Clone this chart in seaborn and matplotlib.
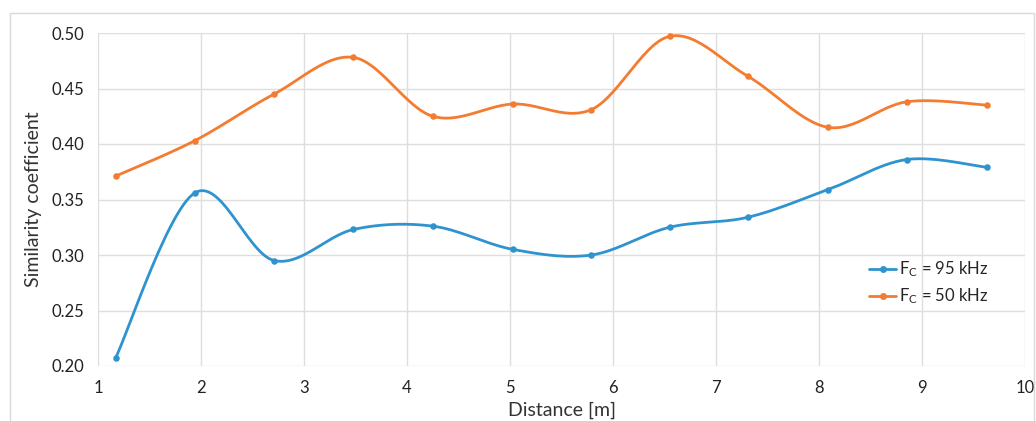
import numpy as np
import pandas as pd
import seaborn as sns
import matplotlib
matplotlib.use("Agg")
import matplotlib.pyplot as plt
from matplotlib.lines import Line2D
from matplotlib.patches import Rectangle

# ---- data ----
distance = [1.17, 1.94, 2.71, 3.48, 4.25, 5.03, 5.79, 6.55, 7.31, 8.09, 8.85, 9.63]
sim_95khz = [0.207, 0.356, 0.295, 0.323, 0.326, 0.305, 0.300, 0.325, 0.334, 0.359, 0.386, 0.379]
sim_50khz = [0.371, 0.403, 0.445, 0.478, 0.425, 0.436, 0.431, 0.497, 0.461, 0.415, 0.438, 0.435]
series_labels = [r"$\mathregular{F_C}$ = 95 kHz", r"$\mathregular{F_C}$ = 50 kHz"]
x_ticks = [1, 2, 3, 4, 5, 6, 7, 8, 9, 10]
y_ticks = [0.20, 0.25, 0.30, 0.35, 0.40, 0.45, 0.50]

colors = ["#2F93CF", "#F47C30"]


def smooth_curve(x, y, n=30):
    """Excel-like smoothed line: cubic Bezier segments (Catmull-Rom control points)."""
    x = np.asarray(x, float)
    y = np.asarray(y, float)
    px = np.concatenate([[x[0]], x, [x[-1]]])
    py = np.concatenate([[y[0]], y, [y[-1]]])
    xs, ys = [], []
    t = np.linspace(0, 1, n)
    for i in range(1, len(px) - 2):
        p0 = np.array([px[i], py[i]])
        p3 = np.array([px[i + 1], py[i + 1]])
        c1 = p0 + (np.array([px[i + 1], py[i + 1]]) - np.array([px[i - 1], py[i - 1]])) / 6
        c2 = p3 - (np.array([px[i + 2], py[i + 2]]) - np.array([px[i], py[i]])) / 6
        b = ((1 - t) ** 3)[:, None] * p0 + (3 * (1 - t) ** 2 * t)[:, None] * c1 \
            + (3 * (1 - t) * t ** 2)[:, None] * c2 + (t ** 3)[:, None] * p3
        xs.append(b[:, 0])
        ys.append(b[:, 1])
    return np.concatenate(xs), np.concatenate(ys)


sns.set_theme(style="white")
plt.rcParams["font.family"] = ["Lato", "DejaVu Sans"]
plt.rcParams["mathtext.fontset"] = "custom"
plt.rcParams["mathtext.rm"] = "Lato"

fig = plt.figure(figsize=(10.36, 4.21), dpi=100)
ax = fig.add_axes([98 / 1036, 1 - 366 / 421, 927 / 1036, 333 / 421])

# outer chart border
fig.patches.append(Rectangle((10 / 1036, -0.01), 1024 / 1036, 1 - 13 / 421 + 0.01,
                             transform=fig.transFigure, fill=False,
                             edgecolor="#d9d9d9", linewidth=1.0))

handles = []
for yvals, lab, col in zip([sim_95khz, sim_50khz], series_labels, colors):
    sx, sy = smooth_curve(distance, yvals)
    sns.lineplot(x=sx, y=sy, ax=ax, color=col, linewidth=2.0, sort=False,
                 estimator=None)
    sns.scatterplot(x=distance, y=yvals, ax=ax, color=col, s=22,
                    edgecolor=col, linewidth=0, zorder=5)
    handles.append(Line2D([0], [0], color=col, linewidth=2.0, marker="o",
                          markersize=4, label=lab))

ax.set_xlim(1, 10)
ax.set_ylim(0.20, 0.50)
ax.set_xticks(x_ticks)
ax.set_xticklabels([str(v) for v in x_ticks])
ax.set_yticks(y_ticks)
ax.set_yticklabels([f"{v:.2f}" for v in y_ticks])
ax.grid(True, color="#dedede", linewidth=1.0)
for s in ax.spines.values():
    s.set_visible(False)
ax.tick_params(axis="both", length=0, labelsize=12, colors="#222222")
ax.tick_params(axis="x", pad=10)
ax.tick_params(axis="y", pad=10)
ax.set_xlabel("Distance [m]", fontsize=14, color="#333333", labelpad=4)
ax.set_ylabel("Similarity coefficient", fontsize=14, color="#333333", labelpad=7)

ax.legend(handles=handles, loc="upper left", bbox_to_anchor=(0.825, 0.34),
          frameon=False, fontsize=12, handlelength=1.6, handletextpad=0.2,
          labelspacing=0.45, borderaxespad=0)

fig.savefig("out.png", dpi=100, facecolor="white")
